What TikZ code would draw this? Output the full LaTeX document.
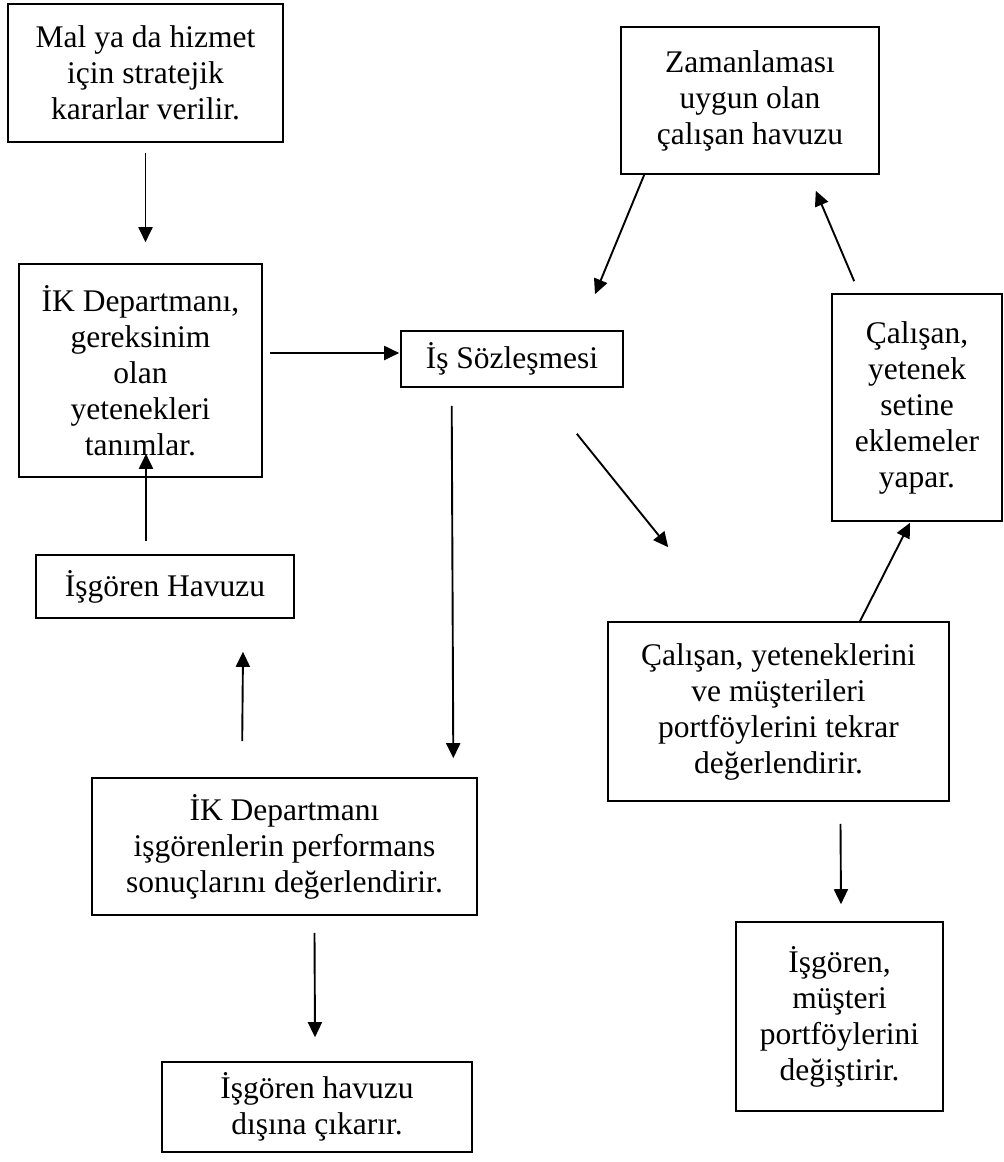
\documentclass[tikz,border=0pt]{standalone}
\usepackage{fontspec}
\setmainfont{Liberation Serif}
\usetikzlibrary{arrows.meta,calc}
\begin{document}
\begin{tikzpicture}[x=1pt,y=-1pt,
  stepbox/.style={draw,line width=1.6pt,inner sep=0pt,align=center,
    font=\fontsize{31.5}{36}\selectfont},
  arr/.style={line width=1.9pt,-{Triangle[length=15pt,width=14pt]}}]
\fill[white] (0,0) rectangle (1004,1162);
\useasboundingbox (0,0) rectangle (1004,1162);

% process boxes
\node[stepbox,minimum width=275pt,minimum height=138pt] (b1) at (145.5,73)
  {Mal ya da hizmet\\için stratejik\\kararlar verilir.};
\node[stepbox,minimum width=258pt,minimum height=147pt] (b2) at (750,100.5)
  {Zamanlaması\\uygun olan\\çalışan havuzu};
\node[stepbox,minimum width=243pt,minimum height=213pt] (b3) at (140.5,370.5)
  {İK Departmanı,\\gereksinim\\olan\\yetenekleri\\tanımlar.};
\node[stepbox,minimum width=222pt,minimum height=56pt] (b4) at (512,359)
  {İş Sözleşmesi};
\node[stepbox,minimum width=170pt,minimum height=227pt] (b5) at (917,407.5)
  {Çalışan,\\yetenek\\setine\\eklemeler\\yapar.};
\node[stepbox,minimum width=258pt,minimum height=63pt] (b6) at (165,586.5)
  {İşgören Havuzu};
\node[stepbox,minimum width=341pt,minimum height=179pt] (b7) at (778.5,711.5)
  {Çalışan, yeteneklerini\\ve müşterileri\\portföylerini tekrar\\değerlendirir.};
\node[stepbox,minimum width=385pt,minimum height=137pt] (b8) at (284.5,846.5)
  {İK Departmanı\\işgörenlerin performans\\sonuçlarını değerlendirir.};
\node[stepbox,minimum width=207pt,minimum height=189pt] (b9) at (839.5,1016.5)
  {İşgören,\\müşteri\\portföylerini\\değiştirir.};
\node[stepbox,minimum width=310pt,minimum height=90pt] (b10) at (317,1107)
  {İşgören havuzu\\dışına çıkarır.};

% connectors
\draw[arr] ($(b1.south)+(0,10)$) -- ($(b3.north)+(5,-21)$);
\draw[arr] ($(b3.east)+(7,-17.5)$) -- ($(b4.west)+(-1,-6)$);
\draw[arr] ($(b2.south west)+(24,0)$) -- ($(b4.north)+(83,-36)$);
\draw[arr] ($(b4.south west)+(51.5,18)$) -- ($(b8.north east)+(-24.5,-19)$);
\draw[arr] ($(b4.south east)+(-47,46)$) -- ($(b7.north west)+(61,-74)$);
\draw[arr] ($(b7.north)+(81.5,0)$) -- ($(b5.south)+(-7,1)$);
\draw[arr] ($(b5.north west)+(23,-12)$) -- ($(b2.south east)+(-64,16)$);
\draw[arr] ($(b6.north)+(-19,-13)$) -- ($(b3.south)+(5.5,-24)$);
\draw[arr] ($(b8.north west)+(151,-36)$) -- ($(b6.south)+(78,33)$);
\draw[arr] ($(b7.south)+(62,22)$) -- ($(b9.north)+(1.5,-17)$);
\draw[arr] ($(b8.south)+(30,17)$) -- ($(b10.north)+(-2,-24)$);
\end{tikzpicture}
\end{document}
